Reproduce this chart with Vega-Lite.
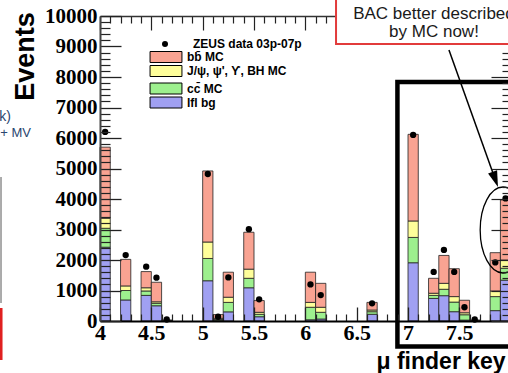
{
  "$schema": "https://vega.github.io/schema/vega-lite/v6.json",
  "autosize": {"type": "none"},
  "padding": {"left": 100, "top": 16, "right": 0, "bottom": 52},
  "width": 408,
  "height": 305,
  "background": "white",
  "config": {"view": {"stroke": null}, "axis": {"grid": false}, "font": "Liberation Sans"},
  "data": {"values": [{}]},
  "datasets": {
    "mc": [
      {"x0": 4.0, "x1": 4.1, "lfl": 2420, "cc": 620, "jpsi": 330, "bb": 2330},
      {"x0": 4.2, "x1": 4.3, "lfl": 690, "cc": 310, "jpsi": 150, "bb": 870},
      {"x0": 4.4, "x1": 4.5, "lfl": 840, "cc": 145, "jpsi": 105, "bb": 530},
      {"x0": 4.5, "x1": 4.6, "lfl": 500, "cc": 80, "jpsi": 50, "bb": 640},
      {"x0": 4.6, "x1": 4.7, "lfl": 10, "cc": 5, "jpsi": 5, "bb": 10},
      {"x0": 5.0, "x1": 5.1, "lfl": 1320, "cc": 730, "jpsi": 540, "bb": 2330},
      {"x0": 5.1, "x1": 5.2, "lfl": 20, "cc": 30, "jpsi": 40, "bb": 120},
      {"x0": 5.2, "x1": 5.3, "lfl": 300, "cc": 310, "jpsi": 170, "bb": 820},
      {"x0": 5.4, "x1": 5.5, "lfl": 1090, "cc": 310, "jpsi": 300, "bb": 1210},
      {"x0": 5.5, "x1": 5.6, "lfl": 140, "cc": 80, "jpsi": 65, "bb": 385},
      {"x0": 6.0, "x1": 6.1, "lfl": 40, "cc": 410, "jpsi": 160, "bb": 990},
      {"x0": 6.1, "x1": 6.2, "lfl": 65, "cc": 220, "jpsi": 165, "bb": 785},
      {"x0": 6.6, "x1": 6.7, "lfl": 220, "cc": 85, "jpsi": 55, "bb": 250},
      {"x0": 7.0, "x1": 7.1, "lfl": 1910, "cc": 830, "jpsi": 540, "bb": 2840},
      {"x0": 7.2, "x1": 7.3, "lfl": 740, "cc": 100, "jpsi": 70, "bb": 490},
      {"x0": 7.3, "x1": 7.4, "lfl": 830, "cc": 210, "jpsi": 195, "bb": 915},
      {"x0": 7.4, "x1": 7.5, "lfl": 305, "cc": 315, "jpsi": 180, "bb": 915},
      {"x0": 7.5, "x1": 7.6, "lfl": 30, "cc": 175, "jpsi": 65, "bb": 410},
      {"x0": 7.6, "x1": 7.7, "lfl": 10, "cc": 5, "jpsi": 5, "bb": 10},
      {"x0": 7.8, "x1": 7.9, "lfl": 340, "cc": 460, "jpsi": 185, "bb": 1255},
      {"x0": 7.9, "x1": 8.0, "lfl": 1340, "cc": 390, "jpsi": 270, "bb": 1970}
    ],
    "comps": [
      {"comp": "lfl", "k": 1, "label": "lfl bg"},
      {"comp": "cc", "k": 2, "label": "cc̄ MC"},
      {"comp": "jpsi", "k": 3, "label": "J/ψ, ψ', ϒ, BH MC"},
      {"comp": "bb", "k": 4, "label": "bb̄ MC"}
    ],
    "zeus": [
      {"x": 4.05, "n": 6200}, {"x": 4.25, "n": 2160}, {"x": 4.45, "n": 1780},
      {"x": 4.55, "n": 1420}, {"x": 4.65, "n": 50}, {"x": 5.05, "n": 4820},
      {"x": 5.15, "n": 140}, {"x": 5.25, "n": 1430}, {"x": 5.45, "n": 3010},
      {"x": 5.55, "n": 710}, {"x": 6.05, "n": 1200}, {"x": 6.15, "n": 850},
      {"x": 6.65, "n": 580}, {"x": 7.05, "n": 6100}, {"x": 7.25, "n": 1610},
      {"x": 7.35, "n": 2330}, {"x": 7.45, "n": 1610}, {"x": 7.55, "n": 450},
      {"x": 7.65, "n": 50}, {"x": 7.85, "n": 1920}, {"x": 7.95, "n": 4020}
    ]
  },
  "resolve": {"scale": {"fill": "independent"}, "axis": {"x": "independent", "y": "independent"}},
  "layer": [
    {
      "data": {"name": "mc"},
      "transform": [
        {"fold": ["lfl", "cc", "jpsi", "bb"], "as": ["comp", "n"]},
        {"lookup": "comp", "from": {"data": {"name": "comps"}, "key": "comp", "fields": ["k", "label"]}},
        {"stack": "n", "groupby": ["x0"], "sort": [{"field": "k", "order": "ascending"}], "as": ["v0", "v1"]},
        {"filter": {"field": "comp", "oneOf": ["cc", "lfl"]}}
      ],
      "mark": {"type": "rect", "stroke": "#222", "strokeWidth": 0.8},
      "encoding": {
        "x": {"field": "x0", "type": "quantitative", "scale": {"domain": [4, 7.974], "nice": false, "zero": false},
          "axis": {"orient": "bottom", "values": [4.1,4.2,4.3,4.4,4.6,4.7,4.8,4.9,5.1,5.2,5.3,5.4,5.6,5.7,5.8,5.9,6.1,6.2,6.3,6.4,6.6,6.7,6.8,6.9,7.1,7.2,7.3,7.4,7.6,7.7,7.8,7.9],
            "offset": -7, "tickSize": 7, "tickWidth": 1.2, "tickColor": "#222", "labels": false, "domain": false, "title": null, "zindex": 1}},
        "x2": {"field": "x1"},
        "y": {"field": "v1", "type": "quantitative", "scale": {"domain": [0, 10000], "nice": false, "zero": false},
          "axis": {"orient": "left", "values": [200,400,600,800,1200,1400,1600,1800,2200,2400,2600,2800,3200,3400,3600,3800,4200,4400,4600,4800,5200,5400,5600,5800,6200,6400,6600,6800,7200,7400,7600,7800,8200,8400,8600,8800,9200,9400,9600,9800],
            "offset": -10, "tickSize": 10, "tickWidth": 1.2, "tickColor": "#222", "labels": false, "domain": false, "title": null, "zindex": 1}},
        "y2": {"field": "v0"},
        "fill": {"field": "label", "type": "nominal",
          "scale": {"domain": ["cc̄ MC", "lfl bg"], "range": ["#9DF08E", "#A0A0F2"]},
          "legend": {"orient": "none", "legendX": 60, "legendY": 66.5, "title": null,
            "symbolType": "M-2.9,-1H2.9V1H-2.9Z", "symbolSize": 121, "symbolStrokeColor": "black", "symbolStrokeWidth": 1,
            "rowPadding": -3, "labelOffset": 15, "padding": 0,
            "labelFont": "Liberation Sans", "labelFontWeight": "bold", "labelFontSize": 12, "labelColor": "black"}}
      }
    },
    {
      "data": {"name": "mc"},
      "transform": [
        {"fold": ["lfl", "cc", "jpsi", "bb"], "as": ["comp", "n"]},
        {"lookup": "comp", "from": {"data": {"name": "comps"}, "key": "comp", "fields": ["k", "label"]}},
        {"stack": "n", "groupby": ["x0"], "sort": [{"field": "k", "order": "ascending"}], "as": ["v0", "v1"]},
        {"filter": {"field": "comp", "oneOf": ["bb", "jpsi"]}}
      ],
      "mark": {"type": "rect", "stroke": "#222", "strokeWidth": 0.8},
      "encoding": {
        "x": {"field": "x0", "type": "quantitative", "scale": {"domain": [4, 7.974], "nice": false, "zero": false},
          "axis": {"orient": "bottom", "values": [4, 4.5, 5, 5.5, 6, 6.5, 7, 7.5], "format": "~g",
            "offset": -14, "tickSize": 14, "tickWidth": 1.3, "tickColor": "#222", "domain": false,
            "labelFont": "Liberation Serif", "labelFontWeight": "bold", "labelFontSize": 22, "labelColor": "black",
            "labelPadding": 1, "labelFlush": false, "labelOverlap": false,
            "title": "μ finder key", "titleFont": "Liberation Sans", "titleFontWeight": "bold", "titleFontSize": 23, "titleColor": "black",
            "titleX": 276, "titleY": 61, "titleAlign": "left", "titleBaseline": "alphabetic", "zindex": 1}},
        "x2": {"field": "x1"},
        "y": {"field": "v1", "type": "quantitative", "scale": {"domain": [0, 10000], "nice": false, "zero": false},
          "axis": {"orient": "left", "values": [0,1000,2000,3000,4000,5000,6000,7000,8000,9000,10000], "format": "d",
            "offset": -21, "tickSize": 21, "tickWidth": 1.3, "tickColor": "#222", "domain": false,
            "labelFont": "Liberation Serif", "labelFontWeight": "bold", "labelFontSize": 21, "labelColor": "black",
            "labelPadding": 3, "labelFlush": false, "labelOverlap": false,
            "title": "Events", "titleFont": "Liberation Sans", "titleFontWeight": "bold", "titleFontSize": 27, "titleColor": "black",
            "titleAngle": 270, "titleX": -96, "titleY": 40, "titleAlign": "center", "titleBaseline": "middle", "zindex": 1}},
        "y2": {"field": "v0"},
        "fill": {"field": "label", "type": "nominal",
          "scale": {"domain": ["bb̄ MC", "J/ψ, ψ', ϒ, BH MC"], "range": ["#F9A392", "#FEFE9A"]},
          "legend": {"orient": "none", "legendX": 60, "legendY": 35, "title": null,
            "symbolType": "M-2.9,-1H2.9V1H-2.9Z", "symbolSize": 121, "symbolStrokeColor": "black", "symbolStrokeWidth": 1,
            "rowPadding": -3, "labelOffset": 15, "padding": 0,
            "labelFont": "Liberation Sans", "labelFontWeight": "bold", "labelFontSize": 12, "labelColor": "black"}}
      }
    },
    {
      "data": {"name": "zeus"},
      "mark": {"type": "point", "filled": true, "color": "black", "size": 40, "opacity": 1},
      "encoding": {
        "x": {"field": "x", "type": "quantitative", "scale": {"domain": [4, 7.974], "nice": false, "zero": false},
          "axis": {"orient": "top", "values": [4, 4.5, 5, 5.5, 6, 6.5, 7, 7.5], "offset": -14, "tickSize": 14, "tickWidth": 1.2, "tickColor": "#222",
            "labels": false, "domain": false, "title": null, "zindex": 0}},
        "y": {"field": "n", "type": "quantitative", "scale": {"domain": [0, 10000], "nice": false, "zero": false},
          "axis": {"orient": "right", "values": [0,1000,2000,3000,4000,5000,6000,7000,8000], "offset": -17, "tickSize": 17, "tickWidth": 1.2, "tickColor": "#222",
            "labels": false, "domain": false, "title": null, "zindex": 1}},
        "shape": {"datum": "ZEUS data 03p-07p", "scale": {"range": ["circle"]},
          "legend": {"orient": "none", "legendX": 59, "legendY": 22.5, "title": null, "symbolSize": 36,
            "symbolFillColor": "black", "symbolStrokeColor": "black", "clipHeight": 11, "labelOffset": 22, "padding": 0,
            "labelFont": "Liberation Sans", "labelFontWeight": "bold", "labelFontSize": 12, "labelColor": "black"}}
      }
    },
    {
      "mark": {"type": "rect", "fillOpacity": 0, "stroke": "black", "strokeWidth": 4.5},
      "encoding": {
        "x": {"datum": 6.897, "scale": {"domain": [4, 7.974], "nice": false, "zero": false},
          "axis": {"orient": "top", "values": [4.1,4.2,4.3,4.4,4.6,4.7,4.8,4.9,5.1,5.2,5.3,5.4,5.6,5.7,5.8,5.9,6.1,6.2,6.3,6.4,6.6,6.7,6.8,6.9,7.1,7.2,7.3,7.4,7.6,7.7,7.8,7.9],
            "offset": -7, "tickSize": 7, "tickWidth": 1.2, "tickColor": "#222", "labels": false, "domain": false, "title": null, "zindex": 0}},
        "x2": {"datum": 8.3},
        "y": {"datum": 7836, "scale": {"domain": [0, 10000], "nice": false, "zero": false},
          "axis": {"orient": "right", "values": [200,400,600,800,1200,1400,1600,1800,2200,2400,2600,2800,3200,3400,3600,3800,4200,4400,4600,4800,5200,5400,5600,5800,6200,6400,6600,6800,7200,7400,7600,7800,8200,8400,8600,8800],
            "offset": -6, "tickSize": 6, "tickWidth": 1.2, "tickColor": "#222", "labels": false, "domain": false, "title": null, "zindex": 1}},
        "y2": {"datum": -836}
      }
    },
    {
      "mark": {"type": "point", "shape": "M-0.53,0A0.53,1,0,1,0,0.53,0A0.53,1,0,1,0,-0.53,0Z", "size": 7396, "filled": false, "stroke": "black", "strokeWidth": 1.3, "opacity": 1},
      "encoding": {
        "x": {"datum": 7.925, "scale": {"domain": [4, 7.974], "nice": false, "zero": false},
          "axis": {"orient": "bottom", "ticks": false, "labels": false, "domain": true, "domainColor": "black", "domainWidth": 2, "title": null, "zindex": 1}},
        "y": {"datum": 2984, "scale": {"domain": [0, 10000], "nice": false, "zero": false},
          "axis": {"orient": "left", "ticks": false, "labels": false, "domain": true, "domainColor": "#444", "domainWidth": 2, "title": null, "zindex": 1}}
      }
    },
    {
      "mark": {"type": "rule", "stroke": "black", "strokeWidth": 1.5},
      "encoding": {
        "x": {"datum": 7.399, "scale": {"domain": [4, 7.974], "nice": false, "zero": false},
          "axis": {"orient": "top", "ticks": false, "labels": false, "domain": true, "domainColor": "#333", "domainWidth": 1.5, "title": null, "zindex": 0}},
        "y": {"datum": 8885, "axis": null},
        "x2": {"datum": 7.85},
        "y2": {"datum": 4639}
      }
    },
    {
      "mark": {"type": "point", "shape": "M-0.6,-1L0.6,-1L0,1Z", "size": 256, "filled": true, "color": "black", "opacity": 1, "angle": -19.7},
      "encoding": {
        "x": {"datum": 7.85, "axis": null},
        "y": {"datum": 4639, "axis": null}
      }
    },
    {
      "mark": {"type": "rect", "fill": "white", "stroke": "#E23B3B", "strokeWidth": 2},
      "encoding": {
        "x": {"datum": 6.299, "axis": null},
        "x2": {"datum": 8.4},
        "y": {"datum": 9082, "axis": null},
        "y2": {"datum": 10700}
      }
    },
    {
      "mark": {"type": "text", "font": "Liberation Sans", "fontSize": 17, "color": "#1a1a1a", "align": "center", "baseline": "alphabetic"},
      "encoding": {
        "x": {"datum": 7.253, "axis": null},
        "y": {"datum": 9902, "axis": null},
        "text": {"value": "BAC better described"}
      }
    },
    {
      "mark": {"type": "text", "font": "Liberation Sans", "fontSize": 17, "color": "#1a1a1a", "align": "center", "baseline": "alphabetic"},
      "encoding": {
        "x": {"datum": 7.253, "axis": null},
        "y": {"datum": 9321, "axis": null},
        "text": {"value": "by MC now!"}
      }
    },
    {
      "mark": {"type": "text", "font": "Liberation Sans", "fontSize": 14, "color": "#2B4670", "align": "right", "baseline": "alphabetic"},
      "encoding": {
        "x": {"datum": 3.133, "axis": null},
        "y": {"datum": 6557, "axis": null},
        "text": {"value": "k)"}
      }
    },
    {
      "mark": {"type": "text", "font": "Liberation Sans", "fontSize": 13, "color": "#2B4670", "align": "right", "baseline": "alphabetic"},
      "encoding": {
        "x": {"datum": 3.328, "axis": null},
        "y": {"datum": 6033, "axis": null},
        "text": {"value": ") + MV"}
      }
    },
    {
      "mark": {"type": "rule", "stroke": "#AAAAAA", "strokeWidth": 2},
      "encoding": {
        "x": {"datum": 3.036, "axis": null},
        "y": {"datum": 4721, "axis": null},
        "y2": {"datum": 590}
      }
    },
    {
      "mark": {"type": "rule", "stroke": "#E02020", "strokeWidth": 3},
      "encoding": {
        "x": {"datum": 3.036, "axis": null},
        "y": {"datum": 426, "axis": null},
        "y2": {"datum": -1279}
      }
    }
  ]
}
